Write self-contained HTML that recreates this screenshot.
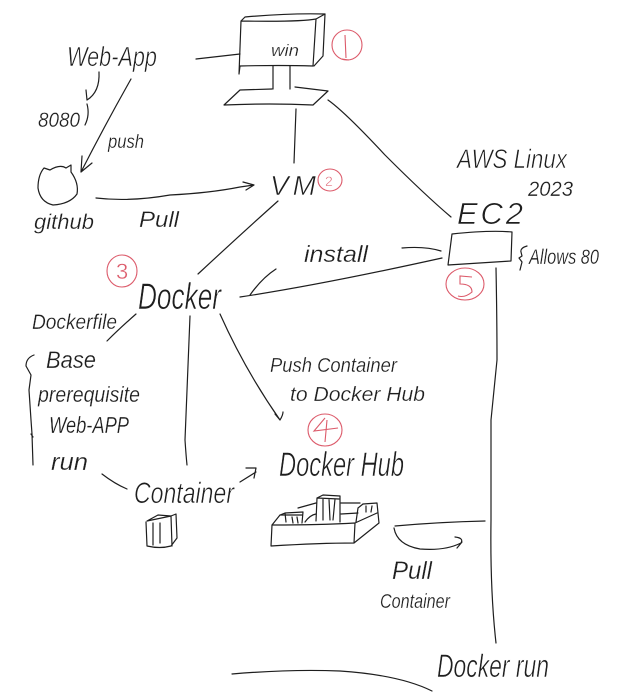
<!DOCTYPE html>
<html><head><meta charset="utf-8"><style>
html,body{margin:0;padding:0;background:#fff;width:625px;height:692px;overflow:hidden}
svg{display:block}
.l path{fill:none;stroke:#1e1e1e;stroke-width:1.2;stroke-linecap:round;stroke-linejoin:round}
.r path,.r ellipse{fill:none;stroke:#dc5a6a;stroke-width:1.1}
text{font-family:"Liberation Sans",sans-serif;font-style:italic;fill:#1e1e1e;stroke:#fff;stroke-width:.25}
.b{stroke-width:.6}
.n{font-style:normal;fill:#dc5a6a;stroke-width:.4}
</style></head><body>
<svg width="625" height="692" viewBox="0 0 625 692" xmlns="http://www.w3.org/2000/svg">
<g class="l">
<!-- monitor -->
<path d="M241 21 L239 74 M241 21 Q300 22 316 19 L313 66 Q280 65 240 66 L239 74 M241 21 L245 17 Q290 13 325 14 L323 56 L314 66 M316 19 L325 14"/>
<path d="M196 59 L240 54"/>
<path d="M273 66 L273 89 M290 66 L290 89 M295 87 L328 91 L313 105 Q270 103 224 105 L240 90 L272 89"/>
<path d="M296 109 L294 163"/>
<path d="M328 100 Q345 112 385 155 Q425 195 451 217"/>
<!-- web app links -->
<path d="M99 72 Q100 92 87 100 L86 90 M87 104 Q90 115 85 125"/>
<path d="M131 79 Q105 125 81 172 M81 172 L82 156 M81 172 L92 163"/>
<!-- github cat -->
<path d="M44 168 L50 170 Q60 164 66 168 L71 165 L71 172 Q79 183 77 194 Q70 204 53 205 Q40 202 38 188 Q38 175 44 168 Z"/>
<path d="M96 198 Q130 202 170 195 Q210 193 240 187 L254 185 M243 182 L254 185 L246 190"/>
<!-- vm to docker -->
<path d="M278 201 Q240 235 198 274"/>
<!-- install line -->
<path d="M240 297 Q320 285 442 258 M250 295 Q262 278 276 269 M402 248 Q425 246 441 251"/>
<!-- EC2 box -->
<path d="M452 234 Q490 230 512 232 L511 261 Q480 263 448 265 Z"/>
<path d="M496 268 Q497 320 497 360 L491 420 L491 520 Q490 590 496 643"/>
<!-- docker lines -->
<path d="M136 314 Q120 328 107 341"/>
<path d="M190 316 L185 440 Q186 455 187 465"/>
<path d="M220 314 Q245 370 280 420 Q283 415 283 412 M275 414 L280 420"/>
<path d="M102 474 Q115 484 127 489 M240 482 L256 472 M246 468 L256 468 L254 478"/>
<!-- brace left -->
<path d="M34 355 Q26 358 26 366 L31 375 L29 390 L31 420 L32 434 L33 465 M31 434 L33 437"/>
<!-- container cube -->
<path d="M146 522 L147 546 Q160 549 171 546 L177 538 L176 514 L171 516 L147 521 L158 515 L171 516 L172 546 M153 523 L153 545 M160 523 L160 543"/>
<!-- docker hub box -->
<path d="M272 525 L271 546 Q320 543 354 543 L379 523 L377 503 L363 504 M272 525 Q320 525 355 523 L354 543 M355 523 L377 513"/>
<path d="M272 525 L280 515 L285 513 L303 512 L302 523 M285 513 L286 522 M292 517 L293 523 M297 517 L298 523 M280 515 L302 515"/>
<path d="M317 498 L323 495 L340 496 L340 522 M317 498 L316 521 M317 498 L339 499 M323 499 L323 520 M329 499 L330 520 M335 499 L333 520"/>
<path d="M298 508 L316 503 M341 503 L360 503 M305 522 Q310 515 316 514 M341 514 L358 513"/>
<path d="M358 508 L363 504 M358 508 L356 522 M366 506 L366 512 M372 506 L371 512"/>
<path d="M395 526 Q440 522 485 521 M394 528 Q397 545 420 549 Q445 551 461 543 Q464 538 455 537 M457 548 L462 542"/>
<path d="M232 674 Q290 669 340 671 Q400 675 432 691"/>
<!-- allows brace -->
<path d="M527 246 Q520 248 521 252 L522 256 L519 258 L522 262 L520 270"/>
</g>
<g class="r">
<ellipse cx="347" cy="45" rx="15" ry="15"/><path d="M345 35 L346 58 M342 59 L349 60"/>
<ellipse cx="330" cy="180" rx="12" ry="11"/>
<ellipse cx="122" cy="271" rx="15" ry="16"/>
<ellipse cx="325" cy="430" rx="17" ry="16"/><path d="M325 418 L314 431 L338 428 M327 420 L325 442"/>
<ellipse cx="465" cy="284" rx="19" ry="16"/><path d="M472 277 L460 276 L460 284 Q472 284 472 292 Q465 298 458 296"/>
</g>
<text class="n" x="325" y="186" font-size="14">2</text>
<text class="n" x="116" y="279" font-size="22">3</text>
<text x="67" y="66" font-size="28" class="b" textLength="90" lengthAdjust="spacingAndGlyphs">Web-App</text>
<text x="271" y="56" font-size="17" textLength="28" lengthAdjust="spacingAndGlyphs">win</text>
<text x="38" y="127" font-size="21" textLength="42" lengthAdjust="spacingAndGlyphs">8080</text>
<text x="108" y="148" font-size="19" textLength="36" lengthAdjust="spacingAndGlyphs">push</text>
<text x="34" y="229" font-size="21" textLength="60" lengthAdjust="spacingAndGlyphs">github</text>
<text x="139" y="227" font-size="22" textLength="40" lengthAdjust="spacingAndGlyphs">Pull</text>
<text x="270" y="195" font-size="28" class="b" textLength="46">VM</text>
<text x="457" y="168" font-size="27" class="b" textLength="110" lengthAdjust="spacingAndGlyphs">AWS Linux</text>
<text x="528" y="196" font-size="21" textLength="45" lengthAdjust="spacingAndGlyphs">2023</text>
<text x="457" y="224" font-size="31" class="b" textLength="66">EC2</text>
<text x="304" y="262" font-size="23" textLength="64" lengthAdjust="spacingAndGlyphs">install</text>
<text x="529" y="264" font-size="21" textLength="70" lengthAdjust="spacingAndGlyphs">Allows 80</text>
<text x="138" y="309" font-size="37" class="b" textLength="83" lengthAdjust="spacingAndGlyphs">Docker</text>
<text x="32" y="329" font-size="21" textLength="85" lengthAdjust="spacingAndGlyphs">Dockerfile</text>
<text x="46" y="368" font-size="24" textLength="50" lengthAdjust="spacingAndGlyphs">Base</text>
<text x="38" y="402" font-size="22" textLength="102" lengthAdjust="spacingAndGlyphs">prerequisite</text>
<text x="49" y="433" font-size="23" textLength="80" lengthAdjust="spacingAndGlyphs">Web-APP</text>
<text x="51" y="470" font-size="24" textLength="37" lengthAdjust="spacingAndGlyphs">run</text>
<text x="134" y="503" font-size="30" class="b" textLength="100" lengthAdjust="spacingAndGlyphs">Container</text>
<text x="270" y="372" font-size="20" textLength="127" lengthAdjust="spacingAndGlyphs">Push Container</text>
<text x="290" y="401" font-size="20" textLength="135" lengthAdjust="spacingAndGlyphs">to Docker Hub</text>
<text x="279" y="476" font-size="34" class="b" textLength="125" lengthAdjust="spacingAndGlyphs">Docker Hub</text>
<text x="392" y="579" font-size="25" textLength="40" lengthAdjust="spacingAndGlyphs">Pull</text>
<text x="380" y="608" font-size="20" textLength="70" lengthAdjust="spacingAndGlyphs">Container</text>
<text x="437" y="677" font-size="32" class="b" textLength="112" lengthAdjust="spacingAndGlyphs">Docker run</text>
</svg>
</body></html>
